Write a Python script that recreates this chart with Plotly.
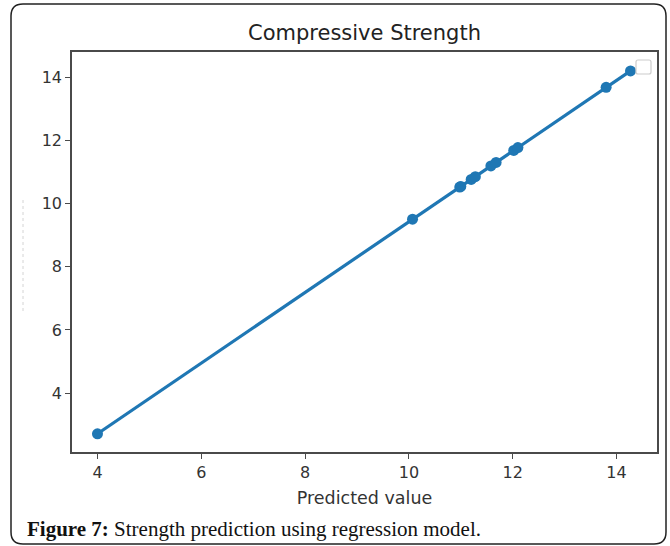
import plotly.graph_objects as go

# Data
predicted = [4.0, 10.07, 10.98, 11.0, 11.2, 11.28, 11.58, 11.68, 12.02, 12.1, 13.8, 14.27]
actual = [2.71, 9.51, 10.53, 10.55, 10.77, 10.86, 11.2, 11.31, 11.69, 11.78, 13.69, 14.21]
x_ticks = [4, 6, 8, 10, 12, 14]
y_ticks = [4, 6, 8, 10, 12, 14]
title_text = "Compressive Strength"
x_label = "Predicted value"
caption_bold = "Figure 7:"
caption_rest = " Strength prediction using regression model."

BLUE = "#1f77b4"
W, H = 670, 546
L, R, T, B = 72, 11, 52, 94

fig = go.Figure()
fig.add_trace(go.Scatter(
    x=predicted, y=actual, mode="lines+markers",
    line=dict(color=BLUE, width=3.2),
    marker=dict(color=BLUE, size=11),
    showlegend=False,
))

axis_common = dict(
    showline=True, linecolor="#4a4a4a", linewidth=1.6, mirror=True,
    showgrid=False, zeroline=False,
    ticks="outside", ticklen=5, tickwidth=1.2, tickcolor="#4a4a4a",
    tickfont=dict(family="DejaVu Sans", size=16, color="#333333"),
)

fig.update_layout(
    width=W, height=H,
    margin=dict(l=L, r=R, t=T, b=B),
    paper_bgcolor="white", plot_bgcolor="white",
    xaxis=dict(range=[3.509, 14.78], tickvals=x_ticks,
               title=dict(text=x_label, standoff=11,
                          font=dict(family="DejaVu Sans", size=17.5, color="#333333")),
               **axis_common),
    yaxis=dict(range=[2.133, 14.81], tickvals=y_ticks, **axis_common),
)

# Title
fig.add_annotation(text=title_text, xref="paper", yref="paper",
                   x=0.5, y=(H - B - 33) / (H - T - B), xanchor="center", yanchor="middle",
                   showarrow=False, font=dict(family="DejaVu Sans", size=21, color="#222222"))

# Caption
fig.add_annotation(text=f"<b>{caption_bold}</b>{caption_rest}", xref="paper", yref="paper",
                   x=(25 - L) / (W - L - R), y=(H - B - 529) / (H - T - B),
                   xanchor="left", yanchor="middle", showarrow=False,
                   font=dict(family="Liberation Serif", size=21, color="#111111"))

def px_rect_path(x0, y0, x1, y1, r):
    # pixel coords relative to paper origin (bottom-left of plot), y upward
    ax, ay = x0 - L, (H - B) - y0
    bx, by = x1 - L, (H - B) - y1
    return (f"M {ax + r},{ay} L {bx - r},{ay} Q {bx},{ay} {bx},{ay - r} "
            f"L {bx},{by + r} Q {bx},{by} {bx - r},{by} "
            f"L {ax + r},{by} Q {ax},{by} {ax},{by + r} "
            f"L {ax},{ay - r} Q {ax},{ay} {ax + r},{ay} Z")

# Outer rounded frame
fig.add_shape(type="path", xref="paper", yref="paper", xsizemode="pixel", ysizemode="pixel",
              xanchor=0, yanchor=0, path=px_rect_path(11, 4, 666, 544, 12),
              line=dict(color="#222222", width=1.5), layer="above")

# Empty legend box
fig.add_shape(type="path", xref="paper", yref="paper", xsizemode="pixel", ysizemode="pixel",
              xanchor=0, yanchor=0, path=px_rect_path(636, 60, 651, 74, 2),
              line=dict(color="#cccccc", width=1.2), fillcolor="white", layer="above")

# faint dashed artifact left of y axis
fig.add_shape(type="line", xref="paper", yref="paper", xsizemode="pixel", ysizemode="pixel",
              xanchor=0, yanchor=0, x0=23 - L, x1=23 - L, y0=(H - B) - 200, y1=(H - B) - 313,
              line=dict(color="#d4d4d4", width=1, dash="3px,3px"), layer="above")

fig.write_html("out.html")
